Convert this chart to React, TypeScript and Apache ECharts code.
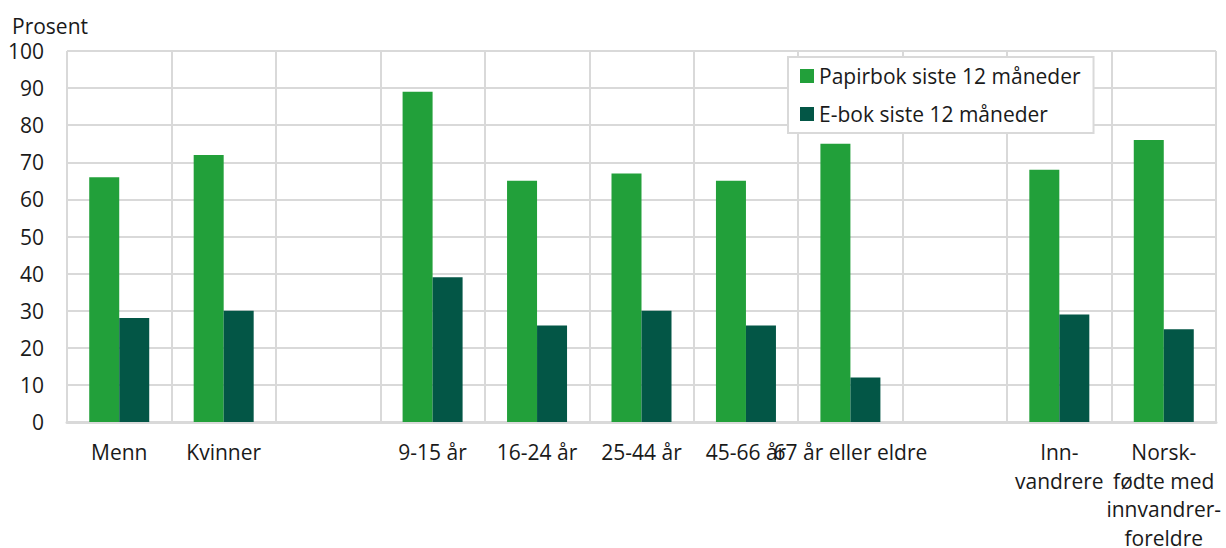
import React, { useEffect, useRef } from "react";
import * as echarts from "echarts";

const categories = [
  "Menn",
  "Kvinner",
  "",
  "9-15 år",
  "16-24 år",
  "25-44 år",
  "45-66 år",
  "67 år eller eldre",
  "",
  "Inn-\nvandrere",
  "Norsk-\nfødte med\ninnvandrer-\nforeldre",
];
const papirbok = [66, 72, null, 89, 65, 67, 65, 75, null, 68, 76];
const ebok = [28, 30, null, 39, 26, 30, 26, 12, null, 29, 25];
const seriesNames = ["Papirbok siste 12 måneder", "E-bok siste 12 måneder"];
const yTicks = { min: 0, max: 100, interval: 10 };
const axisTitle = "Prosent";

const FONT = "'Open Sans', 'Noto Sans', sans-serif";
const TEXT = "#1a1a1a";
const GRID = "#d9d9d9";
const FS = 21;

export default function App() {
  const ref = useRef<HTMLDivElement>(null);
  useEffect(() => {
    if (!ref.current) return;
    const chart = echarts.init(ref.current, undefined, { renderer: "svg" });
    chart.setOption({
      animation: false,
      textStyle: { fontFamily: FONT },
      grid: { left: 67, right: 10, top: 51, bottom: 126, outerBoundsMode: "none" },
      graphic: [
        {
          type: "text",
          x: 12,
          y: 26,
          style: { text: axisTitle, font: `${FS}px ${FONT}`, fill: TEXT, verticalAlign: "middle" },
        },
      ],
      legend: {
        orient: "vertical",
        left: 788,
        top: 57,
        padding: [8, 13, 8, 12],
        itemGap: 16,
        itemWidth: 14,
        itemHeight: 14,
        icon: "rect",
        backgroundColor: "#ffffff",
        borderColor: GRID,
        borderWidth: 2,
        textStyle: { fontFamily: FONT, fontSize: FS, color: TEXT, lineHeight: 22 },
        data: seriesNames,
      },
      xAxis: {
        type: "category",
        data: categories,
        axisLine: { show: true, lineStyle: { color: GRID, width: 3 } },
        axisTick: { show: false },
        splitLine: { show: true, interval: 0, lineStyle: { color: GRID, width: 2 } },
        axisLabel: {
          interval: 0,
          hideOverlap: false,
          margin: 16,
          fontFamily: FONT,
          fontSize: FS,
          color: TEXT,
          lineHeight: 28.5,
          align: "center",
        },
      },
      yAxis: {
        type: "value",
        min: yTicks.min,
        max: yTicks.max,
        interval: yTicks.interval,
        axisLine: { show: false },
        axisTick: { show: false },
        splitLine: { show: true, lineStyle: { color: GRID, width: 2 } },
        axisLabel: { margin: 23, fontFamily: FONT, fontSize: FS, color: TEXT },
      },
      series: [
        {
          name: seriesNames[0],
          type: "bar",
          data: papirbok,
          barWidth: 30,
          barGap: "0%",
          itemStyle: { color: "#22a03a" },
        },
        {
          name: seriesNames[1],
          type: "bar",
          data: ebok,
          barWidth: 30,
          barGap: "0%",
          itemStyle: { color: "#035646" },
        },
      ],
    });
    return () => chart.dispose();
  }, []);
  return (
    <div
      ref={ref}
      style={{ position: "fixed", left: 0, top: 0, width: 1226, height: 548, background: "#fff" }}
    />
  );
}
